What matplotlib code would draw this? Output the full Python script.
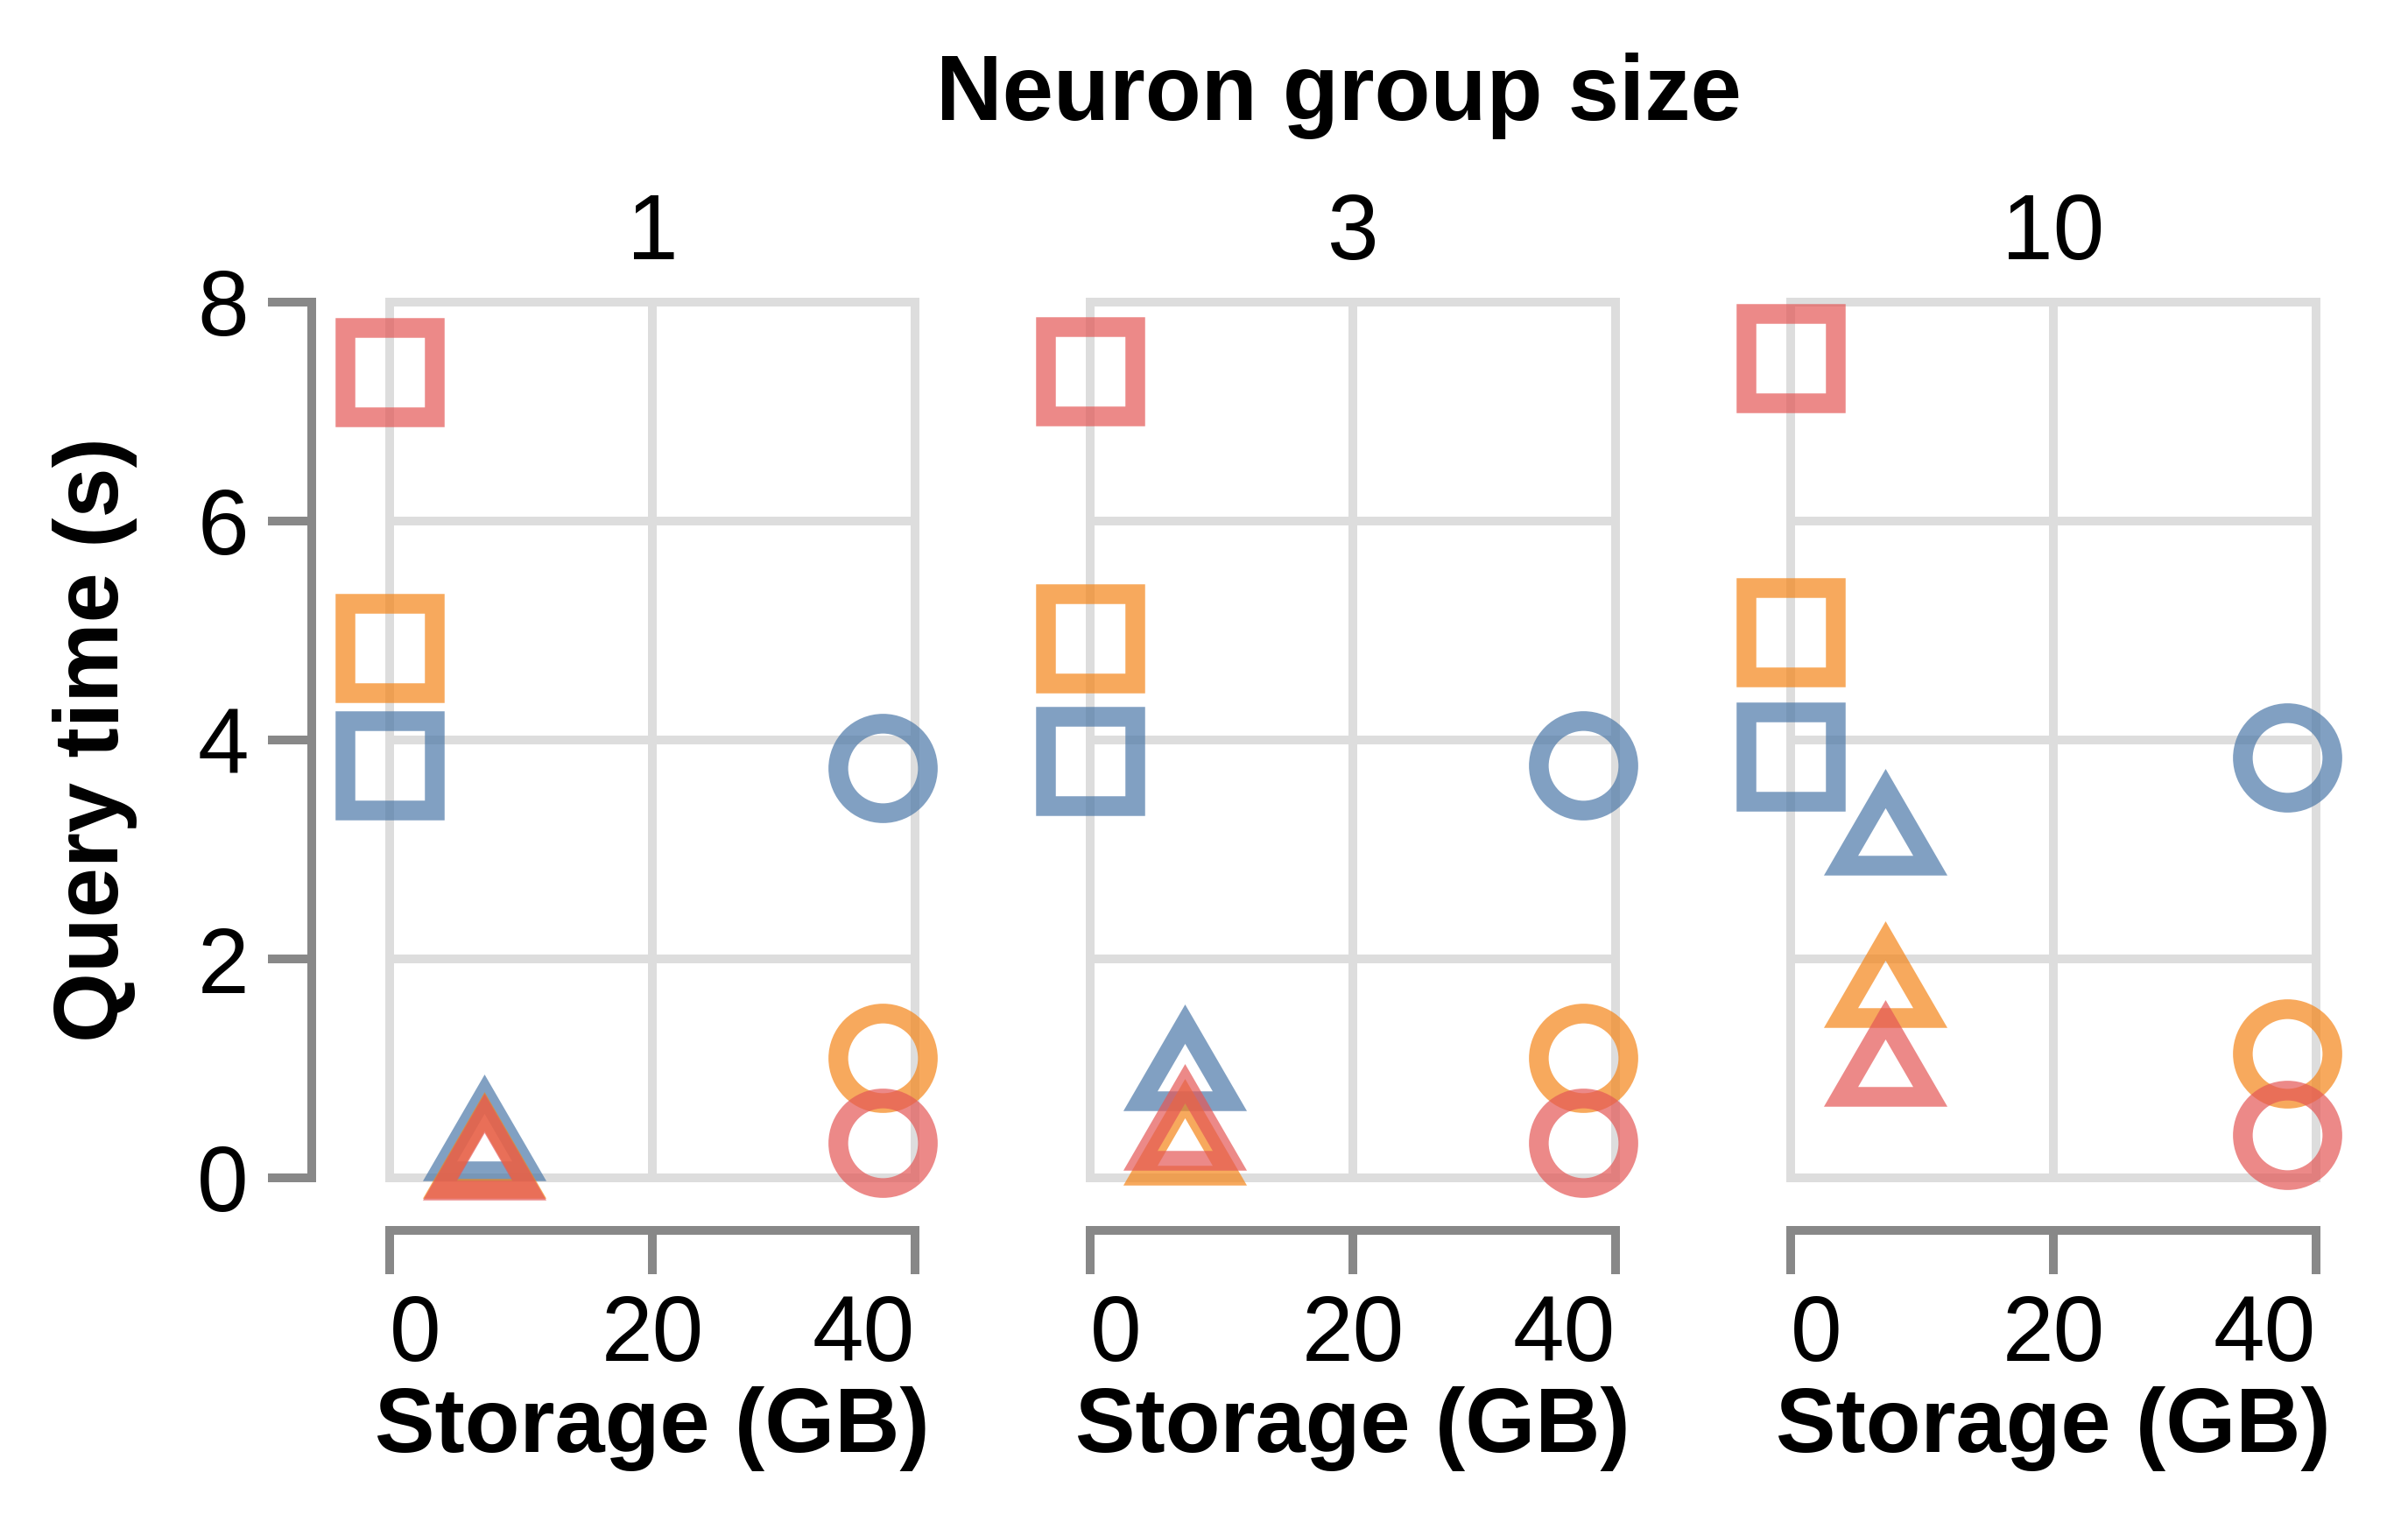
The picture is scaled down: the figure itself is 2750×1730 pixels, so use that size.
import numpy as np
import matplotlib
matplotlib.use("Agg")
import matplotlib.pyplot as plt
from matplotlib.markers import MarkerStyle
from matplotlib.transforms import Affine2D

plt.rcParams["font.family"] = ["Liberation Sans", "DejaVu Sans"]

# facets
group_sizes = [1, 3, 10]

# storage (GB) of each approach
x_square = [0.0, 0.0, 0.0]
x_triangle = [7.2, 7.2, 7.2]
x_circle = [37.5, 37.5, 37.8]

# query time (s), one list per colour, one value per facet
square_blue = [3.77, 3.81, 3.85]
square_orange = [4.84, 4.93, 4.98]
square_red = [7.36, 7.37, 7.49]

triangle_blue = [0.42, 1.06, 3.21]
triangle_orange = [0.26, 0.38, 1.82]
triangle_red = [0.24, 0.51, 1.10]

circle_blue = [3.74, 3.77, 3.84]
circle_orange = [1.10, 1.10, 1.14]
circle_red = [0.32, 0.32, 0.39]

x_ticks = [0, 20, 40]
y_ticks = [0, 2, 4, 6, 8]

colors = {"blue": "#4c78a8", "orange": "#f58518", "red": "#e45756"}

markers = {
    "square": MarkerStyle("s", joinstyle="miter"),
    # equilateral-ish triangle like vega's triangle-up
    "triangle": MarkerStyle("^", joinstyle="miter",
                            transform=Affine2D().scale(1, 0.866)),
    "circle": MarkerStyle("o"),
}

series = [
    ("blue", "square", x_square, square_blue),
    ("blue", "triangle", x_triangle, triangle_blue),
    ("blue", "circle", x_circle, circle_blue),
    ("orange", "square", x_square, square_orange),
    ("orange", "triangle", x_triangle, triangle_orange),
    ("orange", "circle", x_circle, circle_orange),
    ("red", "square", x_square, square_red),
    ("red", "triangle", x_triangle, triangle_red),
    ("red", "circle", x_circle, circle_red),
]

fs = 38
fs_bold = 37
axis_gray = "#888888"
grid_gray = "#dddddd"
lw = 3.6

fig = plt.figure(figsize=(13.75, 8.65), dpi=200)

W, H = 2750, 1730
for i, g in enumerate(group_sizes):
    ax = fig.add_axes([(445 + 800 * i) / W, 385 / H, 600 / W, 1000 / H])
    ax.set_xlim(0, 40)
    ax.set_ylim(0, 8)

    for x in x_ticks:
        ax.axvline(x, color=grid_gray, lw=lw, zorder=0, clip_on=False)
    for y in y_ticks:
        ax.axhline(y, color=grid_gray, lw=lw, zorder=0, clip_on=False)

    for color, shape, xs, ys in series:
        ax.plot(
            [xs[i]], [ys[i]],
            linestyle="none",
            marker=markers[shape],
            markersize=36.8,
            markeredgewidth=8.1,
            markerfacecolor="none",
            markeredgecolor=colors[color],
            alpha=0.7,
            clip_on=False,
            zorder=3,
        )

    for s in ["top", "right"]:
        ax.spines[s].set_visible(False)
    ax.spines["bottom"].set_position(("outward", 21.6))
    ax.spines["bottom"].set_bounds(0, 40)
    ax.spines["bottom"].set_color(axis_gray)
    ax.spines["bottom"].set_linewidth(lw)

    ax.set_xticks(x_ticks)
    ax.set_xticklabels([str(t) for t in x_ticks])
    ax.tick_params(axis="x", direction="out", length=18, width=lw,
                   color=axis_gray, labelsize=fs, pad=8)
    labels = ax.get_xticklabels()
    labels[0].set_horizontalalignment("left")
    labels[-1].set_horizontalalignment("right")

    ax.set_yticks(y_ticks)
    if i == 0:
        ax.spines["left"].set_position(("outward", 32))
        ax.spines["left"].set_bounds(0, 8)
        ax.spines["left"].set_color(axis_gray)
        ax.spines["left"].set_linewidth(lw)
        ax.tick_params(axis="y", direction="out", length=18, width=lw,
                       color=axis_gray, labelsize=fs, pad=8)
    else:
        ax.spines["left"].set_visible(False)
        ax.tick_params(axis="y", left=False, labelleft=False)

    ax.set_title(str(g), fontsize=fs, pad=17.6)

    fig.text((745 + 800 * i) / W, 0.0416, "Storage (GB)", ha="center",
             va="baseline", fontsize=fs_bold, fontweight="bold")

fig.text(0.556, 0.9208, "Neuron group size", ha="center", va="baseline",
         fontsize=37.7, fontweight="bold")
fig.text(0.0396, 0.5116, "Query time (s)", ha="center", va="center",
         rotation=90, fontsize=fs_bold, fontweight="bold")

fig.savefig("out.png", dpi=200)
